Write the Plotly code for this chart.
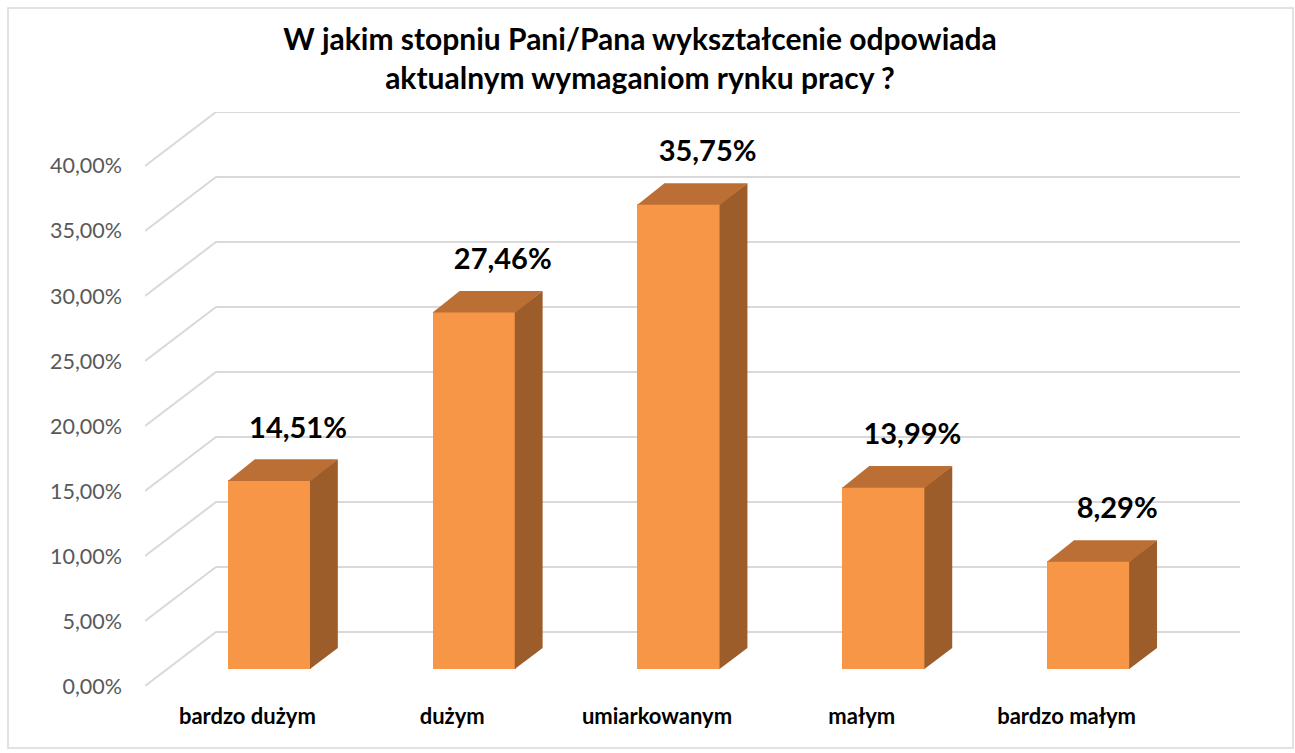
import plotly.graph_objects as go

categories = ["bardzo dużym", "dużym", "umiarkowanym", "małym", "bardzo małym"]
values = [14.51, 27.46, 35.75, 13.99, 8.29]
y_ticks = [0, 5, 10, 15, 20, 25, 30, 35, 40]
title_lines = ["W jakim stopniu Pani/Pana wykształcenie odpowiada",
               "aktualnym wymaganiom rynku pracy ?"]

# ---- pseudo-3D geometry (in data units) ----
DEPTH_X = 0.3467   # full floor depth shift in category units
DEPTH_Y = 4.15     # full floor depth shift in % units
BAR_DX = 0.107     # bar front face shift from front plane
BAR_BASE = 1.31    # bar front face base (% units)
BAR_W = 0.405
SIDE_DX = 0.132
SIDE_DY = 1.615
SEAM = 0.004       # small overlap to hide antialiasing seams

FRONT = "#F79646"
TOP = "#BB6F35"
SIDE = "#9C5D2B"
GRID = "#D9D9D9"
FONT = "Lato"

fig = go.Figure()

x_left = -0.5
x_right = len(categories) - 0.5 + DEPTH_X

# gridlines: diagonal on left side wall + horizontal on back wall (below traces)
shapes = []
for t in y_ticks:
    shapes.append(dict(
        type="path", xref="x", yref="y", layer="below",
        path=f"M {x_left},{t} L {x_left + DEPTH_X},{t + DEPTH_Y} L {x_right},{t + DEPTH_Y}",
        line=dict(color=GRID, width=2)))

xs = list(range(len(categories)))
fx = [x + BAR_DX for x in xs]

# front faces
fig.add_trace(go.Bar(x=fx, y=values, base=BAR_BASE, width=BAR_W,
                     marker=dict(color=FRONT, line=dict(width=0)),
                     showlegend=False, hoverinfo="skip"))

# side & top faces
for c, v in zip(fx, values):
    r = c + BAR_W / 2
    l = c - BAR_W / 2
    b = BAR_BASE
    t = BAR_BASE + v
    fig.add_trace(go.Scatter(
        x=[r - SEAM, r + SIDE_DX, r + SIDE_DX, r - SEAM, r - SEAM],
        y=[b, b + SIDE_DY, t + SIDE_DY, t, b],
        fill="toself", fillcolor=SIDE, mode="lines",
        line=dict(width=0, color=SIDE), hoverinfo="skip", showlegend=False))
    fig.add_trace(go.Scatter(
        x=[l, r, r + SIDE_DX, l + SIDE_DX, l],
        y=[t - 0.05, t - 0.05, t + SIDE_DY, t + SIDE_DY, t - 0.05],
        fill="toself", fillcolor=TOP, mode="lines",
        line=dict(width=0, color=TOP), hoverinfo="skip", showlegend=False))

# data labels
fig.add_trace(go.Scatter(
    x=[c + 0.14 for c in fx],
    y=[BAR_BASE + v + 3.85 for v in values],
    mode="text",
    text=[f"{v:.2f}".replace(".", ",") + "%" for v in values],
    textposition="middle center",
    textfont=dict(family=FONT, size=29, color="#000000", weight="bold"),
    hoverinfo="skip", showlegend=False))

W, H = 1295, 753
L, R, T, B = 145, 55, 112, 67
pw, ph = W - L - R, H - T - B

shapes.append(dict(type="rect", xref="paper", yref="paper",
                   x0=(8 - L) / pw, x1=(1293 - L) / pw,
                   y0=1 - (748 - T) / ph, y1=1 - (8 - T) / ph,
                   line=dict(color="#D9D9D9", width=1.5), fillcolor="rgba(0,0,0,0)",
                   layer="below"))

fig.update_layout(
    width=W, height=H,
    margin=dict(l=L, r=R, t=T, b=B),
    paper_bgcolor="white", plot_bgcolor="white",
    font=dict(family=FONT),
    title=dict(text="<br>".join(title_lines), x=(640 - L) / pw, xref="paper",
               xanchor="center", y=1 - 50 / H, yanchor="middle",
               font=dict(family=FONT, size=30, color="#000000", weight="bold")),
    xaxis=dict(range=[x_left, x_right], tickvals=xs, ticktext=categories,
               showgrid=False, zeroline=False, showline=False, ticks="",
               ticklabelstandoff=15,
               tickfont=dict(family=FONT, size=22, color="#000000", weight="bold"),
               fixedrange=True),
    yaxis=dict(range=[0, 40 + DEPTH_Y], tickvals=y_ticks,
               ticktext=[f"{t:.2f}".replace(".", ",") + "%" for t in y_ticks],
               showgrid=False, zeroline=False, showline=False, ticks="",
               ticklabelstandoff=22,
               tickfont=dict(family=FONT, size=21.5, color="#595959"),
               fixedrange=True),
    bargap=0,
    shapes=shapes,
)

fig.write_html("out.html", config={"displayModeBar": False},
               post_script="document.body.style.margin='0';")
